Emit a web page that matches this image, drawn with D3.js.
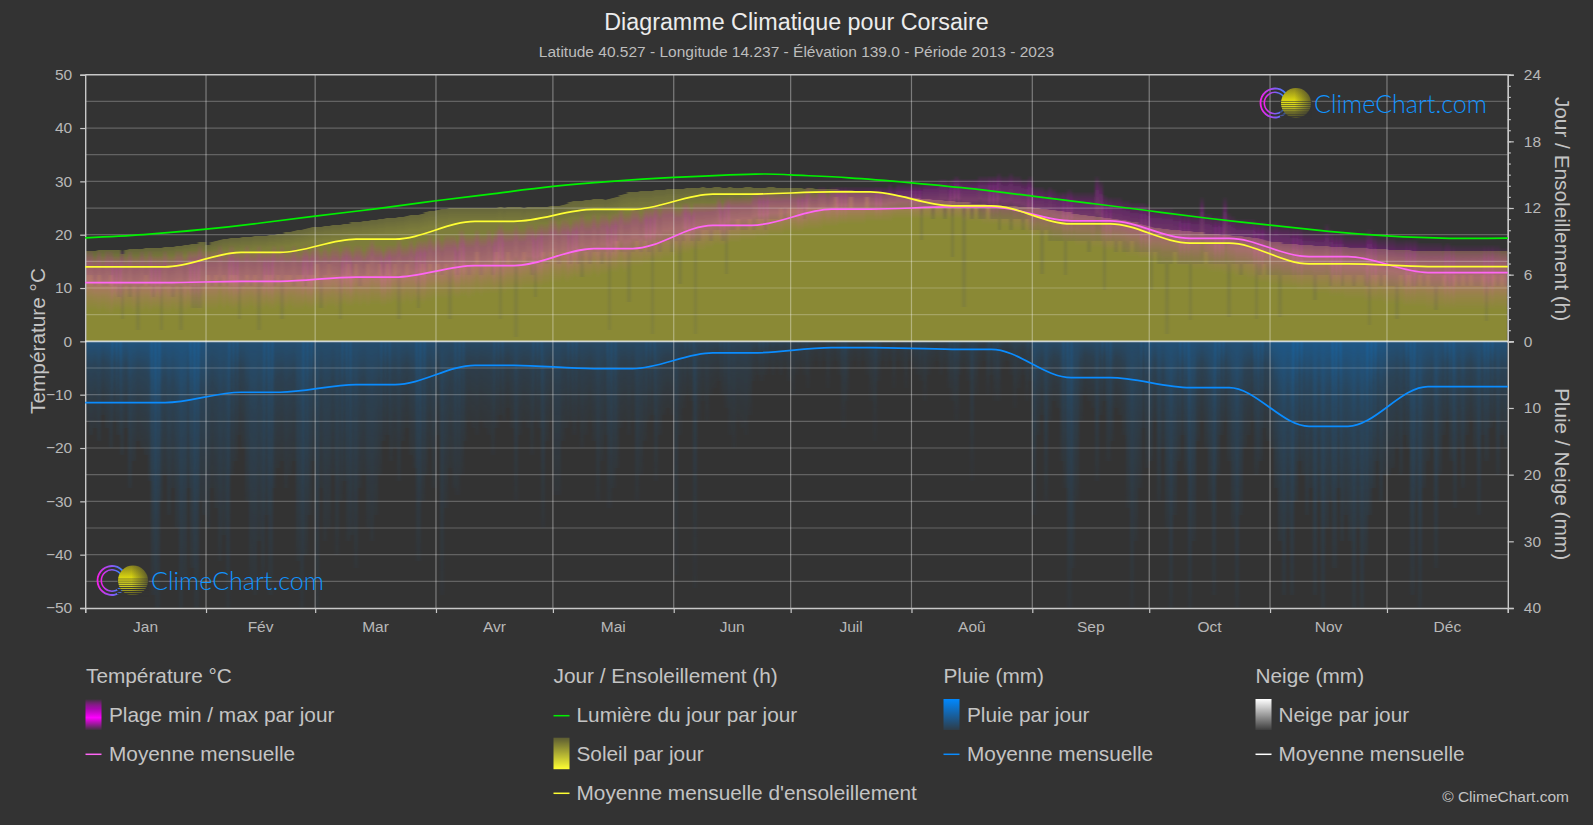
<!DOCTYPE html>
<html><head><meta charset="utf-8">
<script src="https://d3js.org/d3.v7.min.js"></script>
<style>html,body{margin:0;padding:0;background:#333;overflow:hidden}svg{display:block}text{font-family:"Liberation Sans",Arial,sans-serif}</style>
</head><body><svg id="c" width="1593" height="825"></svg>
<script>
const monthLabels=["Jan","Fév","Mar","Avr","Mai","Jun","Juil","Aoû","Sep","Oct","Nov","Déc"];
const monthStarts=[0,31,59,90,120,151,181,212,243,273,304,334,365];
const tempMean=[11.0,11.25,12.05,14.2,17.4,21.75,24.8,25.2,22.6,19.3,15.9,12.9];
const sunMean=[6.7,8.0,9.2,10.8,11.87,13.25,13.45,12.2,10.57,8.83,6.97,6.73];
const rainMean=[9.2,7.64,6.5,3.6,4.1,1.75,0.95,1.2,5.45,6.95,12.75,6.8];
const snowMean=[0,0,0,0,0,0,0,0,0,0,0,0];
const daylightDays=[0,15,31,45,59,75,90,105,120,135,151,172,181,196,212,228,243,258,273,288,304,319,334,350,365];
const daylightHours=[9.31,9.6,10.09,10.65,11.27,11.95,12.65,13.3,13.94,14.4,14.75,15.05,14.98,14.72,14.27,13.72,13.07,12.42,11.75,11.08,10.45,9.9,9.49,9.27,9.28];
const rainStrength=[.9,.75,.7,.6,.6,.45,.35,.4,.65,.8,1,.85];

const sunMax=[
[8.1,8.1,8.1,8.2,8.2,8.2,8.2,8.2,8.2,7.9,8.2,8.3,8.3,8.3,8.3,8.4,8.4,8.4,8.4,8.4,8.5,8.5,8.5,8.6,8.6,8.7,8.7,8.8,8.8,8.9,8.9],
[8.7,8.9,9.0,9.1,9.2,9.2,9.3,9.3,9.3,9.4,9.4,9.4,9.5,9.5,9.5,9.5,9.6,9.6,9.7,9.7,9.8,9.8,9.9,10.0,10.0,10.1,10.2,10.3],
[10.3,10.3,10.4,10.4,10.5,10.5,10.5,10.6,10.6,10.7,10.7,10.7,10.8,10.8,10.9,10.9,11.0,11.0,11.1,11.1,11.1,11.2,11.2,11.3,11.4,11.4,11.4,11.5,11.6,11.7,11.7],
[11.8,11.9,11.9,12.0,12.0,12.0,12.0,12.0,12.0,12.0,12.0,12.0,12.0,12.0,12.0,12.0,12.1,12.0,12.1,12.1,12.1,12.1,12.0,12.1,12.1,12.1,12.1,12.1,12.1,12.2],
[12.2,12.2,12.3,12.4,12.5,12.6,12.6,12.6,12.7,12.7,12.8,12.8,12.8,12.7,12.8,12.9,13.0,13.2,13.3,13.4,13.4,13.4,13.5,13.5,13.5,13.5,13.6,13.6,13.6,13.7,13.7],
[13.7,13.7,13.7,13.8,13.8,13.8,13.8,13.9,13.8,13.8,13.9,13.9,13.8,13.8,13.9,13.8,13.8,13.8,13.9,13.9,13.8,13.8,13.8,13.8,13.9,13.9,13.8,13.8,13.8,13.8],
[13.8,13.8,13.8,13.7,13.8,13.8,13.7,13.7,13.7,13.7,13.7,13.7,13.6,13.6,13.6,13.6,13.5,13.5,13.5,13.5,13.4,13.4,13.4,13.3,13.3,13.3,13.2,13.2,13.1,13.1,13.0],
[12.9,12.9,12.8,12.8,12.8,12.7,12.7,12.7,12.6,12.6,12.6,12.5,12.5,12.5,12.5,12.4,12.4,12.4,12.4,12.3,12.3,12.3,12.3,12.2,12.2,12.2,12.2,12.1,12.1,12.1,12.1],
[12.0,12.0,11.9,11.9,11.8,11.8,11.7,11.7,11.6,11.6,11.5,11.5,11.4,11.4,11.3,11.3,11.2,11.2,11.1,11.1,11.0,11.0,10.9,10.9,10.8,10.7,10.7,10.6,10.5,10.4],
[10.3,10.2,10.2,10.1,10.1,10.0,10.0,10.0,9.9,9.9,9.9,9.8,9.8,9.8,9.7,9.7,9.7,9.7,9.6,9.6,9.6,9.5,9.5,9.5,9.4,9.4,9.3,9.3,9.2,9.1,9.0],
[8.9,8.9,8.9,8.8,8.8,8.8,8.8,8.7,8.7,8.7,8.7,8.6,8.6,8.6,8.6,8.5,8.5,8.5,8.5,8.5,8.4,8.4,8.4,8.4,8.4,8.3,8.3,8.3,8.3,8.3],
[8.2,8.2,8.2,8.2,8.2,8.2,8.1,8.1,8.1,8.1,8.1,8.1,8.1,8.1,8.1,8.1,8.1,8.1,8.1,8.1,8.1,8.1,8.1,8.1,8.1,8.1,8.1,8.1,8.1,8.1,8.1]];

const sunLow=[
[6,6,5,6,5,5,6,5,4,2,5,4,5,1,5,6,5,4,5,1,5,5,4,5,1,5,5,3,3,3,5],
[6,5,6,5,6,5,6,6,2,5,6,5,6,1,5,6,6,5,6,2,6,6,5,6,6,5,6,6],
[7,3,6,7,6,6,2,6,7,6,7,5,6,7,6,6,7,6,7,6,7,2,6,7,6,6,3,7,6,7,6],
[7,6,7,2,7,6,7,7,6,7,8,6,7,7,6,8,2,7,8,7,0.4,7,8,7,6,4,7,8,7,8],
[8,7,8,8,7,8,7,5.8,8,7,8,8,7,8,1,8,9,8,8,3.5,8,9,8,9,8,0.7,9,8,9,9,8],
[9,5.2,9,10,9,0.7,9,10,10,9,10,10,9,6.1,10,10,11,10,10,11,10,11,11,10,11,11,11,12,11,12],
[12,12,12,11,12,12,12,12,12,12,12,13,12,12,12,13,12,12,12,13,12,12,12,12,12,12,12,12,12,12,12],
[12,12,9.1,12,12,11,12,12,11,12,7.6,12,12,3.1,12,11,12,11,11,12,11,11,10,11,11,10,11,11,10,11,10],
[10,10,6.1,10,9,9,9,9,6,9,9,9,9,9,8,9,9,9,4.6,9,9,8,9,8,8,9,8,8,8,8],
[4.6,8,7,7,0.7,7,8,7,7,7,1.9,7,7,7,8,7,7,7,7,7,2.2,7,7,6,7,7,7,2.0,6,7,6],
[6,6,2.2,6,6,6,6,6,6,6,6,3.7,6,6,6,5,6,6,5,6,6,5,6,6,5,1.5,6,6,5,6],
[5,5,2,6,5,6,5,5,6,5,6,5,2.8,5,6,5,5,6,5,6,5,6,5,5,6,1.8,5,6,5,6,5]];

const tempMax=[
[17,17,16,17,16,17,17,16,16,17,16,17,16,16,17,16,17,16,16,16,17,16,16,17,17,16,17,17,17,18,17],
[17,17,17,18,17,17,18,17,17,17,18,17,17,18,17,17,17,18,17,18,17,17,18,17,17,18,17,18],
[18,17,18,17,18,18,17,18,18,17,18,18,17,18,19,18,18,17,18,18,18,19,18,18,19,18,19,19,19,20,19],
[20,19,20,20,20,19,21,20,20,20,21,20,20,21,20,21,22,21,21,21,22,21,21,22,22,21,22,22,22,23],
[23,22,23,23,22,23,23,24,23,23,24,23,24,24,23,24,24,25,24,24,25,25,24,25,25,25,26,25,26,26,26],
[25,25,26,26,25,26,26,26,26,26,26,27,26,27,27,27,27,27,27,27,28,28,28,28,28,28,28,28,28,28],
[28,28,28,28,29,28,28,29,29,28,29,29,29,29,29,29,29,29,29,29,29,29,29,29,29,29.5,29,29.5,29.5,29.5,29.5],
[29.5,29.5,29.5,30,30,30,30,30.5,30.5,30,30.5,31,30.5,30.5,30.5,30.5,30.5,31,31,31,31,31,31.5,31,31,31.5,31,31,30.5,30.5,31],
[29,29,29,28.5,29,28.5,28,28,28,28.5,28,28,28,28,28,28,31,30,27.5,27,27,27,27,26.5,26.5,26,26,26,26,25.5],
[25,25,25,25,25,25,24.5,24.5,24,24,24,24,24,27,24,24,23.5,23.5,23.5,27,24,23.5,23,23,23,23,23,22.5,22.5,22.5,22],
[22,22.5,22,22,22,21.5,21.5,21.5,21,21,21,21,21,21,22,21,20.5,20.5,20.5,20,20,20,20,20,20,21,20,19.5,19.5,19.5],
[19.5,19.5,19,19,19,19,19,19,18.5,18.5,18.5,18.5,18.5,18.5,18,18.5,18,18,18,18,18,18,18,18,18,18,18,18,18,17.5,17.5]];

const tempMin=[
[6,6,6,5.5,6,5.5,5,6,6,5.5,6,6,5.5,6,5.5,6,5.5,6,6,6,5.5,5.5,6,5.5,6,5.5,6,6,6,5.5,6],
[6,6,6,6.5,6,6.5,6,6,6.5,6,6,6.5,6,6,6,6.5,6,6,6.5,6,6,6.5,6,6,6,6.5,6,6],
[6.5,6.5,6,6.5,6.5,6,6.5,7,6.5,6.5,7,6.5,7,6.5,7,7,7,6.5,7,7,7.5,7,7,7.5,7,7.5,7.5,7,7.5,7.5,8],
[8,8,8,8,8.5,8,8.5,8.5,8,8.5,9,8.5,9,9,9,9,9.5,9,9.5,9.5,10,9.5,10,10,10,10.5,10,10.5,10.5,11],
[11,11,11.5,11,11.5,12,11.5,12,12,12,12.5,12,12.5,12.5,13,13,13,13.5,13,13.5,14,14,14,14.5,14.5,15,15,15,15.5,15.5,16],
[16,16,16.5,16.5,17,17,17,17,17.5,17.5,18,18,18,18,18.5,18.5,18.5,19,19,19,19,19.5,19.5,19.5,20,20,20,20,20.5,20.5],
[20.5,20.5,20.5,21,21,21,21,21,21.5,21.5,21.5,21.5,22,22,22,22,22,22,22,22.5,22.5,22.5,22.5,22.5,22.5,22.5,23,23,23,23,23],
[23,23,23,23,23,23,23,23,23,23,23,23,23,22.5,22.5,22.5,22.5,22.5,22,22,22,22,22,21.5,21.5,21.5,21,21,21,20.5,20],
[19.5,20,19.5,19.5,19.5,19,19,19,18.5,18.5,18.5,18,18,18,18,17.5,17.5,17.5,17,17,17,16.5,16.5,16.5,16,16,16,15.5,15.5,15.5],
[15,15,15,14.5,14.5,14.5,14.5,14,14,14,14,13.5,13.5,13.5,13.5,13,13,13,13,12.5,12.5,12.5,12,12,12,11.5,11.5,11.5,11,11,11],
[10.5,10.5,10.5,10,10,10,10,9.5,9.5,9.5,9.5,9,9,9,9,8.5,8.5,8.5,8.5,8,8,8,8,8,7.5,7.5,7.5,7.5,7.5,7],
[7,7,7,7,6.5,6.5,6.5,6.5,6.5,6.5,6,6,6,6,6,6,6,6,6,6,6,6,6,6,6,6,6,6,6,6,6]];

const rainPeak=[
[12,14,13,15,11,13,16,12,14,17,13,22,18,15,16,17,21,38,40,24,20,26,22,28,40,36,22,34,40,24,26],
[28,22,25,33,29,40,20,18,14,16,24,36,38,30,36,26,38,22,19,18,22,20,18,33,40,32,26,18],
[40,22,30,28,20,32,24,21,30,29,34,22,20,28,30,26,20,15,14,18,16,21,15,13,17,19,33,24,20,16,22],
[14,38,25,19,22,23,20,15,12,13,14,12,13,14,17,13,11,12,10,13,24,14,12,13,17,12,13,28,15,12],
[23,23,15,13,12,14,12,16,14,12,15,24,18,14,25,22,19,13,12,14,12,24,20,15,12,11,21,14,11,10,11],
[35,14,10,8,9,37,12,9,12,8,7,6,8,10,14,16,12,13,14,11,6,5,6,5,4,5,4,5,4,6],
[8,5,4,5,7,4,3,4,3,7,4,3,5,13,9,4,3,4,3,5,9,15,6,3,4,3,7,3,4,7,3],
[4,5,6,9,5,4,3,5,4,7,9,12,5,4,6,21,8,4,3,8,5,9,9,4,3,5,10,7,5,9,6],
[26,14,11,24,12,9,10,18,22,40,34,24,12,8,9,10,21,11,9,18,15,10,11,14,25,40,30,22,13,19],
[18,12,24,16,28,40,26,18,14,20,40,30,15,12,16,24,38,20,14,12,18,28,40,26,16,14,12,20,18,13,15],
[16,22,30,38,28,38,24,18,20,26,22,38,24,40,28,24,34,22,30,26,30,40,28,40,32,26,22,18,24,20],
[20,19,16,20,14,16,38,24,40,22,18,16,34,20,14,12,18,25,16,22,14,12,16,26,14,18,13,12,20,14,16]];

const tickFill="#b8b8b8", legendFill="#c4c4c4";
const x=d3.scaleLinear().domain([0,365]).range([85.2,1507.8]);
const yT=d3.scaleLinear().domain([-50,50]).range([608,74.7]);
const yS=d3.scaleLinear().domain([0,24]).range([341.3,74.7]);
const yR=d3.scaleLinear().domain([0,40]).range([341.3,608]);
const svg=d3.select("#c");
svg.append("rect").attr("width",1593).attr("height",825).attr("fill","#333");
const defs=svg.append("defs");
function grad(id,stops){const g=defs.append("linearGradient").attr("id",id).attr("x1",0).attr("y1",0).attr("x2",0).attr("y2",1);
 stops.forEach(s=>g.append("stop").attr("offset",s[0]).attr("stop-color",s[1]).attr("stop-opacity",s[2]));}
grad("gSunTop",[[0,"#66663a",1],[.12,"#7d7d3a",1],[1,"#82823a",1]]);
grad("gTemp",[[0,"#e000e8",0.02],[.22,"#d018d8",.3],[.5,"#ff50d8",.33],[.8,"#ff50d8",.1],[1,"#ff50d8",0]]);
grad("gRain",[[0,"#0a8cff",.42],[.3,"#0a8cff",.2],[.7,"#0a8cff",.09],[1,"#0a8cff",.04]]);
grad("lTemp",[[0,"#ff00ff",0],[.3,"#c000c8",.8],[.6,"#ff00ff",1],[1,"#ff00ff",.05]]);
grad("lSun",[[0,"#ffff33",.2],[1,"#ffff33",1]]);
grad("lRain",[[0,"#0088ff",1],[1,"#0088ff",.1]]);
grad("lSnow",[[0,"#ffffff",1],[1,"#ffffff",.05]]);
defs.append("filter").attr("id","soft").attr("filterUnits","userSpaceOnUse").attr("x",60).attr("y",60).attr("width",1480).attr("height",570)
  .append("feGaussianBlur").attr("stdDeviation","0.9 0.7");
defs.append("clipPath").attr("id","cUp").append("rect").attr("x",x(0)).attr("y",yS(24)).attr("width",x(365)-x(0)).attr("height",yS(0)-yS(24));
defs.append("clipPath").attr("id","cDown").append("rect").attr("x",x(0)).attr("y",yR(0)).attr("width",x(365)-x(0)).attr("height",yR(40)-yR(0));

const flat=a=>a.flatMap((m,mi)=>m.map((v,i)=>({d:monthStarts[mi]+i,v,mi})));
const dayW=x(1)-x(0)+.3;
const up=svg.append("g").attr("clip-path","url(#cUp)").append("g").attr("filter","url(#soft)").attr("shape-rendering","crispEdges");
up.selectAll(".s").data(flat(sunMax)).join("rect").attr("x",d=>x(d.d)).attr("width",dayW).attr("y",d=>yS(d.v)).attr("height",d=>yS(0)-yS(d.v)+4).attr("fill","url(#gSunTop)");
up.selectAll(".l").data(flat(sunLow)).join("rect").attr("x",d=>x(d.d)).attr("width",dayW).attr("y",d=>yS(d.v)).attr("height",d=>yS(0)-yS(d.v)+4).attr("fill","#8a8936");
const minFlat=flat(tempMin);
up.selectAll(".t").data(flat(tempMax)).join("rect").attr("x",d=>x(d.d)).attr("width",dayW).attr("y",d=>yT(d.v)).attr("height",(d,i)=>yT(minFlat[i].v)-yT(d.v)).attr("fill","url(#gTemp)");
const down=svg.append("g").attr("clip-path","url(#cDown)").append("g").attr("filter","url(#soft)").attr("shape-rendering","crispEdges");
down.selectAll(".r").data(flat(rainPeak)).join("rect").attr("x",d=>x(d.d)).attr("width",dayW).attr("y",yR(0)-4).attr("height",d=>yR(d.v)-yR(0)+4).attr("fill","url(#gRain)").attr("opacity",d=>rainStrength[d.mi]);

// grid
const grid=svg.append("g");
grid.selectAll(".h").data(d3.range(-45,50,5).filter(v=>v!==0)).join("line").attr("x1",x(0)).attr("x2",x(365)).attr("y1",d=>yT(d)).attr("y2",d=>yT(d)).attr("stroke","#fff").attr("stroke-opacity",.24).attr("stroke-width",1.2);
grid.selectAll(".v").data(monthStarts.slice(1,12)).join("line").attr("x1",d=>x(d)).attr("x2",d=>x(d)).attr("y1",yT(50)).attr("y2",yT(-50)).attr("stroke","#fff").attr("stroke-opacity",.36).attr("stroke-width",1.2);

// axes
function styleAxis(g){g.select(".domain").attr("stroke","#c8c8c8").attr("stroke-width",1.4);g.selectAll(".tick line").attr("stroke","#c8c8c8").attr("stroke-width",1.2);
 g.selectAll("text").attr("fill",tickFill).style("font-size","15.5px").style("font-family",'"Liberation Sans",Arial,sans-serif');}
svg.append("g").attr("transform",`translate(${x(0)},0)`).call(d3.axisLeft(yT).tickValues(d3.range(-50,51,10)).tickSize(5).tickPadding(8).tickFormat(d3.format("d"))).call(styleAxis);
svg.append("g").attr("transform",`translate(${x(365)},0)`).call(d3.axisRight(yS).tickValues(d3.range(0,25,1)).tickSize(3).tickFormat("")).call(styleAxis);
svg.append("g").attr("transform",`translate(${x(365)},0)`).call(d3.axisRight(yS).tickValues(d3.range(0,25,6)).tickSize(6).tickPadding(10)).call(styleAxis);
svg.append("g").attr("transform",`translate(${x(365)},0)`).call(d3.axisRight(yR).tickValues([10,20,30,40]).tickSize(6).tickPadding(10)).call(styleAxis);
const xAxis=d3.axisBottom(x).tickValues(monthStarts).tickSize(5).tickFormat("");
svg.append("g").attr("transform",`translate(0,${yT(-50)})`).call(xAxis).call(styleAxis);
svg.append("line").attr("x1",x(0)).attr("x2",x(365)).attr("y1",yT(50)).attr("y2",yT(50)).attr("stroke","#c8c8c8").attr("stroke-width",1.4);
svg.selectAll(".ml").data(monthLabels).join("text").attr("x",(d,i)=>x((monthStarts[i]+monthStarts[i+1])/2)).attr("y",631.5).attr("text-anchor","middle").attr("fill",tickFill).style("font-size","15.5px").text(d=>d);

// mean lines: each monthly value holds over a plateau around mid-month
function plateauPoints(vals){const pts=[];vals.forEach((v,i)=>{const mid=(monthStarts[i]+monthStarts[i+1])/2;
  pts.push([i===0?0:mid-5,v]);pts.push([i===11?365:mid+5,v]);});return pts;}
const mk=y=>d3.line().x(p=>x(p[0])).y(p=>y(p[1])).curve(d3.curveMonotoneX);
const lines=svg.append("g").attr("fill","none").attr("stroke-width",1.7);
lines.append("path").attr("d",mk(yR)(plateauPoints(snowMean))).attr("stroke","#ffffff").attr("stroke-opacity",.75);
lines.append("path").attr("d",mk(yR)(plateauPoints(rainMean))).attr("stroke","#0a8cff");
lines.append("path").attr("d",d3.line().x(p=>x(p[0])).y(p=>yS(p[1])).curve(d3.curveNatural)(daylightDays.map((d,i)=>[d,daylightHours[i]]))).attr("stroke","#00f000");
lines.append("path").attr("d",mk(yT)(plateauPoints(tempMean))).attr("stroke","#ff66f5");
lines.append("path").attr("d",mk(yS)(plateauPoints(sunMean))).attr("stroke","#ffff33");

// titles
const T=(t,xx,yy,size,fill,anchor,rot)=>{const e=svg.append("text").attr("fill",fill).style("font-size",size+"px").attr("text-anchor",anchor||"start").text(t);
 if(rot)e.attr("transform",`translate(${xx},${yy}) rotate(${rot})`);else e.attr("x",xx).attr("y",yy);return e;};
T("Diagramme Climatique pour Corsaire",796.5,30,23.3,"#ececec","middle");
T("Latitude 40.527 - Longitude 14.237 - Élévation 139.0 - Période 2013 - 2023",796.5,56.5,15.5,"#bdbdbd","middle");
T("Température °C",45,341,20.8,legendFill,"middle",-90);
T("Jour / Ensoleillement (h)",1555,209,20.8,legendFill,"middle",90);
T("Pluie / Neige (mm)",1555,474,20.8,legendFill,"middle",90);

// legend
const LS=20.8;
T("Température °C",86,682.7,LS,legendFill);
svg.append("rect").attr("x",85.5).attr("y",699).attr("width",16).attr("height",31).attr("fill","url(#lTemp)");
T("Plage min / max par jour",109,721.7,LS,legendFill);
const swLine=(xx,yy,c)=>svg.append("line").attr("x1",xx).attr("x2",xx+16).attr("y1",yy).attr("y2",yy).attr("stroke",c).attr("stroke-width",1.5);
swLine(85.5,754.3,"#ff66f5");T("Moyenne mensuelle",109,760.7,LS,legendFill);
T("Jour / Ensoleillement (h)",553.5,682.7,LS,legendFill);
swLine(553.5,715.7,"#00f000");T("Lumière du jour par jour",576.5,721.7,LS,legendFill);
svg.append("rect").attr("x",553.5).attr("y",737.7).attr("width",16).attr("height",31.5).attr("fill","url(#lSun)");
T("Soleil par jour",576.5,760.7,LS,legendFill);
swLine(553.5,793.3,"#ffff33");T("Moyenne mensuelle d'ensoleillement",576.5,799.5,LS,legendFill);
T("Pluie (mm)",943.5,682.7,LS,legendFill);
svg.append("rect").attr("x",943.5).attr("y",699).attr("width",16).attr("height",31).attr("fill","url(#lRain)");
T("Pluie par jour",967,721.7,LS,legendFill);
swLine(943.5,754.3,"#0a8cff");T("Moyenne mensuelle",967,760.7,LS,legendFill);
T("Neige (mm)",1255.5,682.7,LS,legendFill);
svg.append("rect").attr("x",1255.5).attr("y",699).attr("width",16).attr("height",31).attr("fill","url(#lSnow)");
T("Neige par jour",1278.5,721.7,LS,legendFill);
swLine(1255.5,754.3,"#ffffff");T("Moyenne mensuelle",1278.5,760.7,LS,legendFill);
T("© ClimeChart.com",1569,801.5,15.5,"#c4c4c4","end");

// logos
const rg=defs.append("linearGradient").attr("id","ring").attr("x1",0).attr("x2",1).attr("y1",0).attr("y2",0);
rg.append("stop").attr("offset",0).attr("stop-color","#f81ee8");rg.append("stop").attr("offset",1).attr("stop-color","#2a8cff");
const sg=defs.append("linearGradient").attr("id","disc").attr("x1",0).attr("x2",0).attr("y1",0).attr("y2",1);
[[0,"#8a8420"],[.4,"#d8d410"],[.65,"#f2f020"],[1,"#6a6620"]].forEach(s=>sg.append("stop").attr("offset",s[0]).attr("stop-color",s[1]));
const sf=defs.append("linearGradient").attr("id","discFade").attr("x1",0).attr("x2",1).attr("y1",0).attr("y2",0);
sf.append("stop").attr("offset",.45).attr("stop-color","#333").attr("stop-opacity",0);sf.append("stop").attr("offset",1).attr("stop-color","#333").attr("stop-opacity",.75);
function logo(dx,dy){const g=svg.append("g").attr("transform",`translate(${dx},${dy})`);
 const arc=d3.arc().startAngle(Math.PI/2+0.55).endAngle(Math.PI/2+2*Math.PI-0.55);
 g.append("path").attr("transform","translate(15,15)").attr("d",arc.innerRadius(13.6).outerRadius(15.4)()).attr("fill","url(#ring)");
 g.append("path").attr("transform","translate(15,15)").attr("d",arc.innerRadius(9.9).outerRadius(11.5)()).attr("fill","url(#ring)");
 g.append("circle").attr("cx",36).attr("cy",15).attr("r",15).attr("fill","url(#disc)");
 d3.range(0,9).forEach(i=>g.append("line").attr("x1",20).attr("x2",52).attr("y1",13.5+i*2.1).attr("y2",13.5+i*2.1).attr("stroke","#333").attr("stroke-width",.55+i*.12));
 g.append("circle").attr("cx",36).attr("cy",15).attr("r",15.5).attr("fill","url(#discFade)");
 g.append("text").attr("x",54).attr("y",24.6).attr("fill","#1094ff").attr("textLength",173).attr("lengthAdjust","spacingAndGlyphs").style("font-family","Lato,sans-serif").style("font-weight",300).style("font-size","25px").text("ClimeChart.com");
}
logo(1260,88);
logo(97,565.5);
</script></body></html>
